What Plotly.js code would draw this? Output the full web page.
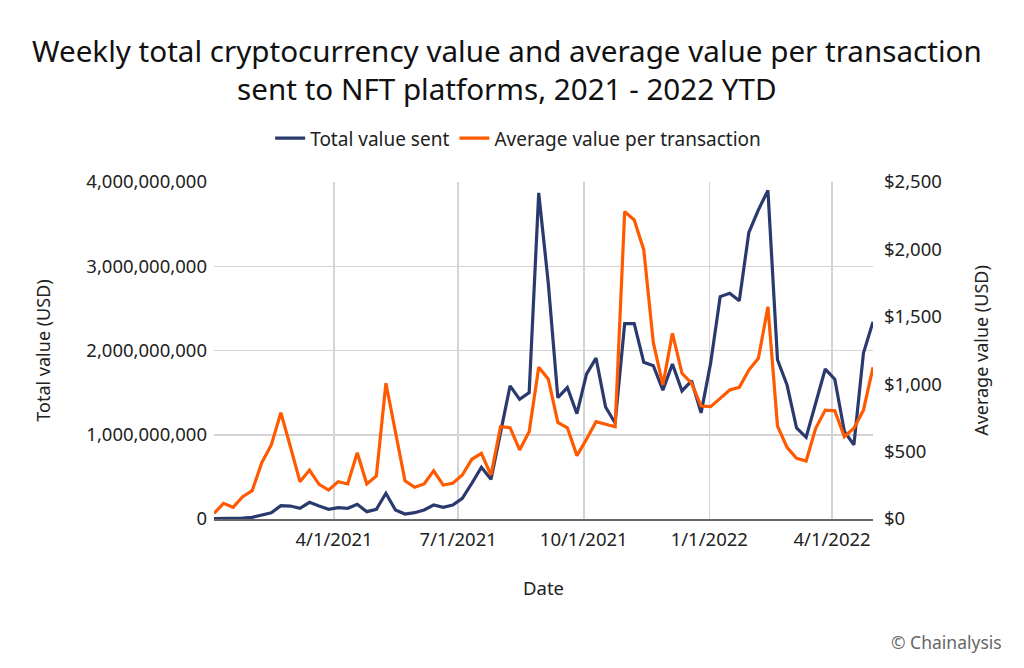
<!DOCTYPE html>
<html>
<head>
<meta charset="utf-8">
<script src="https://cdn.plot.ly/plotly-3.0.1.min.js"></script>
<style>
html,body{margin:0;padding:0;background:#fff;}
#chart{width:1024px;height:668px;}
</style>
</head>
<body>
<div id="chart"></div>
<script>
const dates = [
 "2021-01-03","2021-01-10","2021-01-17","2021-01-24","2021-01-31","2021-02-07","2021-02-14","2021-02-21","2021-02-28","2021-03-07",
 "2021-03-14","2021-03-21","2021-03-28","2021-04-04","2021-04-11","2021-04-18","2021-04-25","2021-05-02","2021-05-09","2021-05-16",
 "2021-05-23","2021-05-30","2021-06-06","2021-06-13","2021-06-20","2021-06-27","2021-07-04","2021-07-11","2021-07-18","2021-07-25",
 "2021-08-01","2021-08-08","2021-08-15","2021-08-22","2021-08-29","2021-09-05","2021-09-12","2021-09-19","2021-09-26","2021-10-03",
 "2021-10-10","2021-10-17","2021-10-24","2021-10-31","2021-11-07","2021-11-14","2021-11-21","2021-11-28","2021-12-05","2021-12-12",
 "2021-12-19","2021-12-26","2022-01-02","2022-01-09","2022-01-16","2022-01-23","2022-01-30","2022-02-06","2022-02-13","2022-02-20",
 "2022-02-27","2022-03-06","2022-03-13","2022-03-20","2022-03-27","2022-04-03","2022-04-10","2022-04-17","2022-04-24","2022-05-01"
];
// Total value sent (USD)
const totalValue = [
 0.005e9,0.005e9,0.01e9,0.012e9,0.02e9,0.045e9,0.075e9,0.158e9,0.154e9,0.127e9,
 0.198e9,0.154e9,0.115e9,0.134e9,0.127e9,0.174e9,0.087e9,0.115e9,0.305e9,0.107e9,
 0.059e9,0.075e9,0.107e9,0.166e9,0.139e9,0.166e9,0.245e9,0.424e9,0.614e9,0.471e9,
 1.05e9,1.58e9,1.42e9,1.50e9,3.87e9,2.80e9,1.44e9,1.56e9,1.25e9,1.72e9,
 1.91e9,1.33e9,1.14e9,2.32e9,2.32e9,1.86e9,1.82e9,1.53e9,1.84e9,1.52e9,
 1.64e9,1.26e9,1.85e9,2.64e9,2.68e9,2.59e9,3.40e9,3.67e9,3.90e9,1.89e9,
 1.59e9,1.08e9,0.97e9,1.37e9,1.78e9,1.66e9,1.04e9,0.88e9,1.97e9,2.34e9
];
// Average value per transaction (USD)
const avgValue = [
 42,116,87,165,210,418,549,789,536,277,
 363,257,215,277,260,492,260,319,1007,660,
 284,235,260,358,252,265,326,443,487,326,
 685,677,512,648,1125,1039,717,677,470,591,
 722,703,684,2280,2218,1996,1308,994,1378,1081,
 1007,838,833,895,957,977,1105,1192,1575,690,
 532,450,430,673,808,803,610,673,808,1125
];
const xTickVals = ["2021-04-01","2021-07-01","2021-10-01","2022-01-01","2022-04-01"];
const xTickText = ["4/1/2021","7/1/2021","10/1/2021","1/1/2022","4/1/2022"];
const leftTickVals = [0,1e9,2e9,3e9,4e9];
const leftTickText = ["0","1,000,000,000","2,000,000,000","3,000,000,000","4,000,000,000"];
const rightTickVals = [0,500,1000,1500,2000,2500];
const rightTickText = ["$0","$500","$1,000","$1,500","$2,000","$2,500"];

const FONT = "Noto Sans, sans-serif";
const traces = [
 {x: dates, y: totalValue, type: "scatter", mode: "lines", name: "Total value sent",
  line: {color: "#2b3a6e", width: 3.2}, yaxis: "y"},
 {x: dates, y: avgValue, type: "scatter", mode: "lines", name: "Average value per transaction",
  line: {color: "#ff5a00", width: 3.2}, yaxis: "y2"}
];
const layout = {
 width: 1024, height: 668,
 margin: {l: 214, r: 151, t: 182, b: 149, autoexpand: false},
 paper_bgcolor: "#fff", plot_bgcolor: "#fff",
 font: {family: FONT, color: "#222", size: 18},
 title: {text: "Weekly total cryptocurrency value and average value per transaction<br>sent to NFT platforms, 2021 - 2022 YTD",
   font: {family: FONT, size: 29.6, color: "#111"}, x: 0.495, xref: "container", y: 0.9075, yref: "container", yanchor: "middle"},
 showlegend: true,
 legend: {orientation: "h", xref: "container", yref: "container", x: 0.506, xanchor: "center", y: 0.793, yanchor: "middle",
   font: {family: FONT, size: 19, color: "#222"}, itemwidth: 30},
 xaxis: {type: "date", range: [dates[0], dates[dates.length-1]], tickvals: xTickVals, ticktext: xTickText,
   showgrid: true, gridcolor: "#d4d4d4", gridwidth: 1.5, showline: true, linecolor: "#666", linewidth: 2,
   ticks: "", zeroline: false, tickfont: {size: 18.5}, ticklabelstandoff: 3,
   title: {text: "Date", font: {size: 18.5}, standoff: 32}},
 yaxis: {range: [0, 4e9], tickvals: leftTickVals, ticktext: leftTickText, showgrid: true, gridcolor: "#d4d4d4", gridwidth: 1.5,
   zeroline: false, showline: false, ticks: "", tickfont: {size: 18.5}, ticklabelstandoff: 6,
   title: {text: "Total value (USD)", font: {size: 18}, standoff: 30}},
 yaxis2: {range: [0, 2500], tickvals: rightTickVals, ticktext: rightTickText, overlaying: "y", side: "right",
   showgrid: false, zeroline: false, showline: false, ticks: "", tickfont: {size: 18.5}, ticklabelstandoff: 10,
   title: {text: "Average value (USD)", font: {size: 18}, standoff: 34}},
 annotations: [
  {text: "© Chainalysis", xref: "paper", yref: "paper", x: 1.199, y: -0.366, xanchor: "right", yanchor: "middle",
   showarrow: false, font: {family: FONT, size: 17.5, color: "#666"}}
 ]
};
Plotly.newPlot("chart", traces, layout, {displayModeBar: false, staticPlot: true});
</script>
</body>
</html>
